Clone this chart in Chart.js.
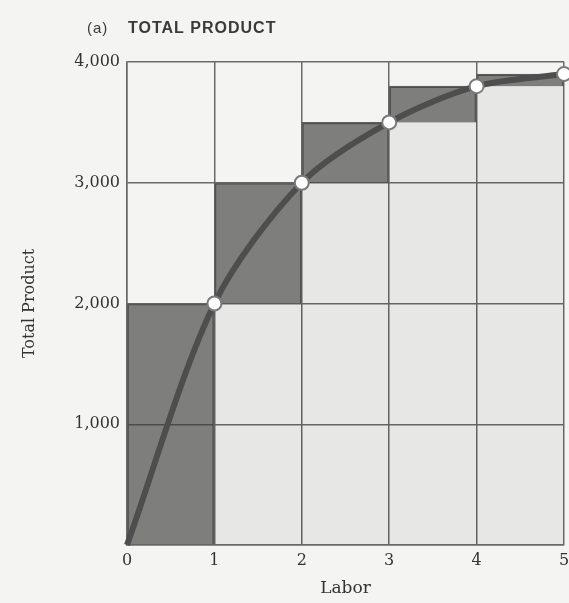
<!DOCTYPE html>
<html><head><meta charset="utf-8">
<script src="https://cdn.jsdelivr.net/npm/chart.js@4/dist/chart.umd.min.js"></script>
<style>html,body{margin:0;padding:0;background:#f4f4f2;}#wrap{width:569px;height:603px;}</style>
</head><body><div id="wrap"><canvas id="c" width="569" height="603"></canvas></div>
<script>
const labor = [0, 1, 2, 3, 4, 5];
const totalProduct = [0, 2000, 3000, 3500, 3800, 3900];
const chartTitleTag = '(a)';
const chartTitle = 'TOTAL PRODUCT';
const xTitle = 'Labor';
const yTitle = 'Total Product';

const marginalBars = labor.slice(1).map((l, i) => ({x: l - 0.5, y: [totalProduct[i], totalProduct[i + 1]]}));
const baseBars = labor.slice(2).map((l, i) => ({x: l - 0.5, y: [0, totalProduct[i + 1]]}));
const curve = labor.map((l, i) => ({x: l, y: totalProduct[i]}));

const gridColor = '#6a6a6a';
const textColor = '#333';
const serif = '"DejaVu Serif", "Liberation Serif", serif';

const titlePlugin = {
  id: 'ttl',
  afterDraw(chart) {
    const ctx = chart.ctx;
    ctx.save();
    ctx.fillStyle = '#3a3a3a';
    ctx.textBaseline = 'alphabetic';
    ctx.textAlign = 'left';
    ctx.letterSpacing = '1px';
    ctx.font = '15px "Liberation Sans", sans-serif';
    ctx.fillText(chartTitleTag, 87, 33);
    ctx.font = 'bold 16px "Liberation Sans", sans-serif';
    ctx.fillText(chartTitle, 128, 33, 152);
    ctx.letterSpacing = '0px';
    ctx.restore();
  }
};

new Chart(document.getElementById('c'), {
  type: 'line',
  data: {
    datasets: [
      {
        type: 'line', data: curve, order: 0,
        borderColor: '#4e4e4e', borderWidth: 6,
        tension: 0.3,
        pointRadius: c => c.dataIndex === 0 ? 0 : 7,
        pointBackgroundColor: '#ffffff', pointBorderColor: '#7a7a7a', pointBorderWidth: 2,
        clip: false
      },
      {
        type: 'bar', data: marginalBars, order: 1, grouped: false,
        backgroundColor: 'rgba(60,60,60,0.64)', borderColor: '#5e5e5e', borderWidth: 1.5,
        barPercentage: 1, categoryPercentage: 1
      },
      {
        type: 'bar', data: baseBars, order: 2, grouped: false,
        backgroundColor: 'rgba(0,0,0,0.05)', borderWidth: 0,
        barPercentage: 1, categoryPercentage: 1
      }
    ]
  },
  options: {
    responsive: false, animation: false, devicePixelRatio: 1,
    layout: {autoPadding: false, padding: {top: 62, right: 5, bottom: 0, left: 0}},
    plugins: {legend: {display: false}, tooltip: {enabled: false}, title: {display: false}},
    scales: {
      x: {
        type: 'linear', min: 0, max: 5, offset: false,
        ticks: {stepSize: 1, color: textColor, font: {family: serif, size: 16}, padding: 6},
        grid: {color: gridColor, lineWidth: 1.5, drawTicks: false, offset: false},
        border: {color: gridColor, width: 1.5},
        title: {display: true, text: xTitle, color: textColor, font: {family: serif, size: 17}, padding: {top: 0, bottom: 4}},
        afterFit(s) { s.height = 58; s.paddingRight = 0; s.paddingLeft = 0; }
      },
      y: {
        type: 'linear', min: 0, max: 4000,
        ticks: {stepSize: 1000, color: textColor, font: {family: serif, size: 16}, padding: 7,
          callback: v => v === 0 ? '' : v.toLocaleString('en-US')},
        grid: {color: gridColor, lineWidth: 1.5, drawTicks: false},
        border: {color: gridColor, width: 1.5},
        title: {display: true, text: yTitle, color: textColor, font: {family: serif, size: 16}, padding: {top: 20, bottom: 0}},
        afterFit(s) { s.width = 127; s.paddingTop = 0; s.paddingBottom = 0; }
      }
    }
  },
  plugins: [titlePlugin]
});
</script></body></html>
